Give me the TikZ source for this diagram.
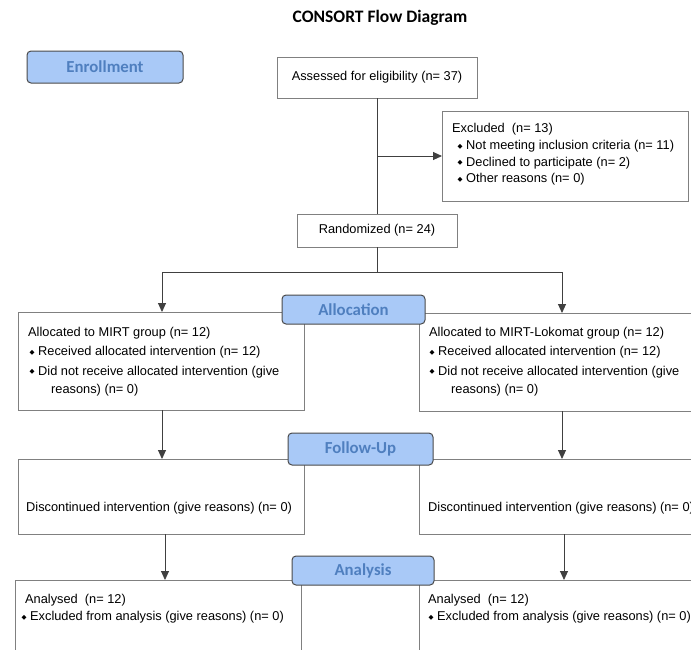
\documentclass[tikz,border=0pt]{standalone}
\usepackage{fontspec}
\setmainfont{Liberation Sans}
\newfontfamily\calib{Carlito}
\newfontfamily\dejavu{DejaVu Sans}
\usetikzlibrary{arrows.meta}
\definecolor{phasefill}{HTML}{A9C9F7}
\definecolor{phasetext}{HTML}{4F7FBF}
\definecolor{phaseedge}{HTML}{4A4A4A}
\definecolor{boxedge}{HTML}{808080}
\definecolor{connc}{HTML}{404040}
\newcommand{\bul}{\raisebox{1.2pt}{\dejavu\fontsize{6.5}{6.5}\selectfont ◆}}
\newcommand{\bl}[1]{\llap{\bul\hspace{3.5pt}}#1}
\begin{document}
\begin{tikzpicture}[x=1pt,y=-1pt,
 box/.style={draw=boxedge, line width=1pt, anchor=north west, inner sep=0pt, outer sep=0pt},
 phase/.style={draw=phaseedge, fill=phasefill, rounded corners=4pt, line width=1pt, text=phasetext, font=\calib\bfseries\fontsize{16.8}{17}\selectfont, inner sep=0pt, outer sep=0pt},
 txt/.style={anchor=base west, inner sep=0pt, font=\fontsize{12.8}{15}\selectfont},
 conn/.style={draw=connc, line width=0.9pt},
 arr/.style={conn, -{Triangle[length=9pt,width=8pt]}}
]
\useasboundingbox (0,0) rectangle (691,649);
\clip (0,0) rectangle (691,649);
\fill[white] (0,0) rectangle (691,649);

% title
\node[font=\calib\bfseries\fontsize{17.5}{18}\selectfont, inner sep=0pt] (title) at (380,18) {CONSORT Flow Diagram};

% boxes
\node[box, minimum width=200pt, minimum height=41pt] (assessed) at (277,57) {};
\node[anchor=center, inner sep=0pt, font=\fontsize{12.8}{15}\selectfont] (tassessed) at (assessed.center) {Assessed for eligibility (n= 37)};
\node[box, minimum width=246pt, minimum height=90pt] (excluded) at (442,111) {};
\node[box, minimum width=160pt, minimum height=33pt] (randomized) at (297,214) {};
\node[anchor=center, inner sep=0pt, font=\fontsize{12.8}{15}\selectfont] (trand) at (randomized.center) {Randomized (n= 24)};

\node[box, minimum width=286pt, minimum height=98pt] (allocL) at (18,312) {};
\node[box, minimum width=285pt, minimum height=98pt] (allocR) at (419,313) {};
\node[box, minimum width=286pt, minimum height=75pt] (fupL) at (18,459) {};
\node[box, minimum width=285pt, minimum height=75pt] (fupR) at (419,459) {};
\node[box, minimum width=286pt, minimum height=90pt] (anaL) at (15,580) {};
\node[box, minimum width=285pt, minimum height=90pt] (anaR) at (419,580) {};

% excluded text
\node[txt] (e1) at (452,132.5) {Excluded\ \ (n= 13)};
\node[txt] (e2) at (466,149.5) {\bl{Not meeting inclusion criteria (n= 11)}};
\node[txt] (e3) at (466,166) {\bl{Declined to participate (n= 2)}};
\node[txt] (e4) at (466,182.5) {\bl{Other reasons (n= 0)}};

% allocation texts
\node[txt] (al1) at (28,336.5) {Allocated to MIRT group (n= 12)};
\node[txt] (al2) at (38,355.5) {\bl{Received allocated intervention (n= 12)}};
\node[txt] (al3) at (38,375) {\bl{Did not receive allocated intervention (give}};
\node[txt] (al4) at (51,393.5) {reasons) (n= 0)};
\node[txt] (ar1) at (429,336.5) {Allocated to MIRT-Lokomat group (n= 12)};
\node[txt] (ar2) at (438,355.5) {\bl{Received allocated intervention (n= 12)}};
\node[txt] (ar3) at (438,375) {\bl{Did not receive allocated intervention (give}};
\node[txt] (ar4) at (451,393.5) {reasons) (n= 0)};

% follow-up texts
\node[txt] (fl) at (26,511) {Discontinued intervention (give reasons) (n= 0)};
\node[txt] (fr) at (428,511) {Discontinued intervention (give reasons) (n= 0)};

% analysis texts
\node[txt] (nl1) at (25,603.5) {Analysed\ \ (n= 12)};
\node[txt] (nl2) at (30,620.5) {\bl{Excluded from analysis (give reasons) (n= 0)}};
\node[txt] (nr1) at (428,603.5) {Analysed\ \ (n= 12)};
\node[txt] (nr2) at (437,620.5) {\bl{Excluded from analysis (give reasons) (n= 0)}};

% connectors
\coordinate (split) at (377,272);
\coordinate (sl) at (162,272);
\coordinate (sr) at (562,272);
\coordinate (ll) at (165,0);
\coordinate (lr) at (564,0);
\draw[conn] (assessed.south) -- (randomized.north);
\draw[arr] (assessed.south |- excluded.west) -- (excluded.west);
\draw[conn] (randomized.south) -- (split);
\draw[conn] (sl) -- (sr);
\draw[arr] (sl) -- (sl |- allocL.north);
\draw[arr] (sr) -- (sr |- allocR.north);
\draw[arr] (allocL.south -| sl) -- (sl |- fupL.north);
\draw[arr] (allocR.south -| sr) -- (sr |- fupR.north);
\draw[arr] (fupL.south -| ll) -- (ll |- anaL.north);
\draw[arr] (fupR.south -| lr) -- (lr |- anaR.north);

% phase labels
\node[phase, minimum width=156pt, minimum height=32pt] (enroll) at (105,67) {Enrollment};
\node[phase, minimum width=143pt, minimum height=29pt] (alloc) at (353.5,309.5) {Allocation};
\node[phase, minimum width=145pt, minimum height=32pt] (follow) at (360.5,449) {Follow-Up};
\node[phase, minimum width=142pt, minimum height=29pt] (analysis) at (363,570.5) {Analysis};
\end{tikzpicture}
\end{document}
